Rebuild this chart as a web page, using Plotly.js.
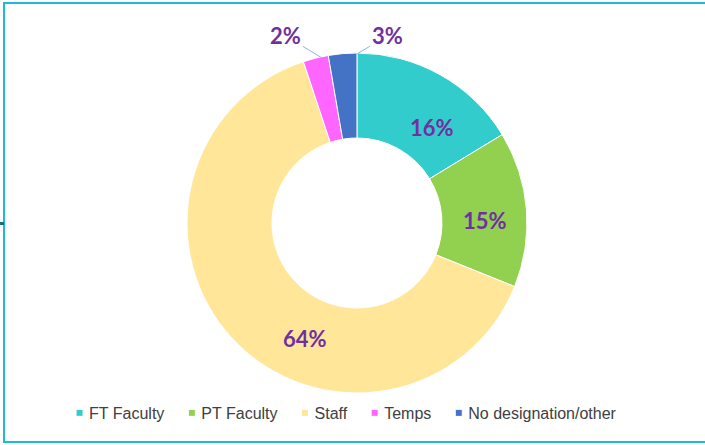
<!DOCTYPE html>
<html>
<head>
<meta charset="utf-8">
<script src="https://cdn.plot.ly/plotly-3.0.1.min.js"></script>
<style>
  html, body { margin: 0; padding: 0; background: #ffffff; overflow: hidden; }
  #wrap { position: relative; width: 705px; height: 445px; }
  #frame { position: absolute; left: 3px; top: 2px; width: 720px; height: 441px;
           border: 2px solid #1EBBD7; box-sizing: border-box; pointer-events: none; z-index: 5; }
  #tick { position: absolute; left: 0px; top: 222px; width: 4px; height: 3px; background: #1a6f7a; z-index: 6; }
  #chart { position: absolute; left: 0; top: 0; width: 705px; height: 445px; }
</style>
</head>
<body>
<div id="wrap">
  <div id="chart"></div>
  <div id="frame"></div>
  <div id="tick"></div>
</div>
<script>
const categories = ["FT Faculty", "PT Faculty", "Staff", "Temps", "No designation/other"];
const shares = [16.3, 14.8, 63.8, 2.4, 2.7];
const sliceColors = ["#33CCCC", "#92D050", "#FFE699", "#FF66FF", "#4472C4"];

// label placement (paper coords) and leader-line offsets, styling only
const labelX = [0.6128, 0.6879, 0.4326, 0.4567, 0.5064];
const labelY = [0.7124, 0.5056, 0.2404, 0.8697, 0.8787];
const labelArrow = [false, false, false, true, true];
const labelAx = [0, 0, 0, -36, 30];
const labelAy = [0, 0, 0, -22, -18];

const total = shares.reduce((a, b) => a + b, 0);
const labelFont = { family: "Lato, Open Sans, sans-serif", size: 22, color: "#7030A0", weight: "bold" };

const annotations = categories.map((c, i) => ({
  xref: "paper", yref: "paper",
  x: labelX[i], y: labelY[i],
  text: Math.round(shares[i] / total * 100) + "%",
  font: labelFont,
  showarrow: labelArrow[i],
  arrowhead: 0, arrowwidth: 1, arrowcolor: "#8EB4E3",
  ax: labelAx[i], ay: labelAy[i],
  standoff: 0, startstandoff: 0,
  xanchor: "center", yanchor: "middle"
}));

const trace = {
  type: "pie",
  labels: categories,
  values: shares,
  sort: false,
  direction: "clockwise",
  rotation: 0,
  hole: 0.5,
  marker: { colors: sliceColors, line: { color: "#ffffff", width: 1 } },
  textinfo: "none",
  domain: { x: [0.2652, 0.7475], y: [0.1169, 0.8809] },
  hoverinfo: "label+percent"
};

const layout = {
  width: 705, height: 445,
  margin: { l: 0, r: 0, t: 0, b: 0 },
  paper_bgcolor: "#ffffff",
  showlegend: true,
  annotations: annotations,
  legend: {
    orientation: "h", x: 0.5, xanchor: "center", y: 0.072, yanchor: "middle",
    font: { family: "Liberation Sans, Arial, sans-serif", size: 16, color: "#404040" },
    itemwidth: 30, tracegroupgap: 0
  }
};

Plotly.newPlot("chart", [trace], layout, { displayModeBar: false, staticPlot: true }).then(gd => {
  // compact legend entries: small squares and tighter gaps
  const items = gd.querySelectorAll(".legend .traces");
  const half = 3.5, symGap = 6, itemGap = 24;
  let widths = [];
  items.forEach(it => {
    const p = it.querySelector(".legendpoints path");
    if (p) p.setAttribute("d", `M${half},${half}H-${half}V-${half}H${half}Z`);
    const t = it.querySelector(".legendtext");
    t.setAttribute("x", 20 + half + symGap);
    widths.push(t.getComputedTextLength());
  });
  let totalW = 0;
  widths.forEach((w, i) => { totalW += 2 * half + symGap + w + (i < widths.length - 1 ? itemGap : 0); });
  const startX = 346 - totalW / 2; // centre of the legend row
  const legendG = gd.querySelector(".legend");
  const lm = legendG.getCTM();
  let x = startX;
  items.forEach((it, i) => {
    const tr = it.getAttribute("transform") || "";
    const m = /translate\(\s*([-\d.]+)[ ,]+([-\d.]+)\s*\)/.exec(tr);
    const ty = m ? parseFloat(m[2]) : 0;
    // symbol left edge in legend coordinates = tx + 20 - half
    const tx = x - lm.e - 20 + half;
    it.setAttribute("transform", `translate(${tx},${ty})`);
    x += 2 * half + symGap + widths[i] + itemGap;
  });
});
</script>
</body>
</html>
